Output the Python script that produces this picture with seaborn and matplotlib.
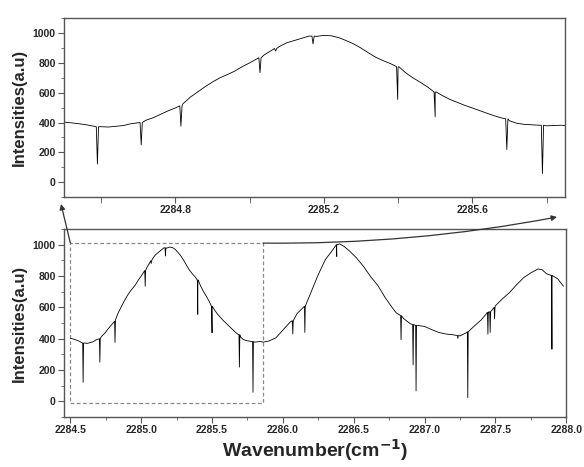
import numpy as np
import pandas as pd
import seaborn as sns
import matplotlib.pyplot as plt
from matplotlib.ticker import MultipleLocator, FixedLocator
from matplotlib.patches import Rectangle

# smooth part of the spectrum (wavenumber, intensity)
wn_env = [2284.50, 2284.52, 2284.54, 2284.56, 2284.58, 2284.60, 2284.62, 2284.64, 2284.66, 2284.68,
          2284.70, 2284.72, 2284.74, 2284.76, 2284.78, 2284.80, 2284.82, 2284.84, 2284.86, 2284.88,
          2284.90, 2284.92, 2284.94, 2284.96, 2284.98, 2285.00, 2285.02, 2285.04, 2285.06, 2285.08,
          2285.10, 2285.12, 2285.14, 2285.16, 2285.18, 2285.20, 2285.22, 2285.24, 2285.26, 2285.28,
          2285.30, 2285.32, 2285.34, 2285.36, 2285.38, 2285.40, 2285.42, 2285.44, 2285.46, 2285.48,
          2285.50, 2285.52, 2285.54, 2285.56, 2285.58, 2285.60, 2285.62, 2285.64, 2285.66, 2285.68,
          2285.70, 2285.72, 2285.74, 2285.76, 2285.78, 2285.80, 2285.82, 2285.84, 2285.86,
          2285.90, 2285.95, 2286.00, 2286.05, 2286.10, 2286.15, 2286.20, 2286.25, 2286.30, 2286.35,
          2286.38, 2286.40, 2286.43, 2286.47, 2286.52, 2286.57, 2286.62, 2286.67, 2286.72, 2286.77,
          2286.80, 2286.85, 2286.90, 2286.95, 2287.00, 2287.05, 2287.10, 2287.15, 2287.20, 2287.25,
          2287.30, 2287.35, 2287.40, 2287.45, 2287.50, 2287.55, 2287.60, 2287.65, 2287.70, 2287.75,
          2287.80, 2287.83, 2287.86, 2287.90, 2287.94, 2287.98]
int_env = [403, 398, 392, 385, 375, 372, 370, 375, 380, 392,
           398, 415, 432, 455, 478, 498, 525, 570, 605, 640,
           672, 700, 722, 745, 775, 800, 828, 855, 885, 910,
           935, 950, 965, 980, 978, 985, 982, 970, 950, 928,
           900, 868, 838, 815, 795, 770, 735, 700, 670, 638,
           605, 580, 555, 535, 515, 498, 480, 462, 445, 430,
           412, 395, 388, 385, 382, 378, 380, 382, 378,
           385, 405, 455, 505, 560, 605, 700, 810, 905, 965,
           1000, 1005, 990, 960, 915, 860, 795, 740, 665, 600,
           565, 530, 495, 485, 478, 458, 440, 430, 425, 418,
           440, 480, 520, 570, 610, 655, 695, 745, 790, 820,
           845, 840, 815, 800, 782, 735]

# sharp absorption lines: position, level just beside the line, level at the bottom
dip_pos = [2284.590, 2284.708, 2284.815, 2285.028, 2285.070, 2285.171, 2285.399, 2285.500,
           2285.693, 2285.789, 2286.070, 2286.155, 2286.380, 2286.834, 2286.919, 2286.940,
           2287.235, 2287.305, 2287.447, 2287.463, 2287.494, 2287.899]
dip_top = [372, 400, 512, 835, 897, 980, 775, 605, 425, 382, 515, 607, 1000, 547, 490, 485,
           420, 444, 568, 572, 600, 803]
dip_bottom = [122, 250, 376, 735, 880, 928, 555, 438, 219, 58, 430, 440, 925, 393, 233, 66,
              402, 23, 429, 440, 526, 333]

# put the spectrum together
rows = list(zip(wn_env, int_env))
for p, t, b in zip(dip_pos, dip_top, dip_bottom):
    rows += [(p - 0.003, t), (p, b), (p + 0.003, t)]
spec = pd.DataFrame(rows, columns=['wn', 'I']).sort_values('wn').reset_index(drop=True)

sns.set_style('ticks')
plt.rcParams['font.family'] = ['Liberation Sans', 'DejaVu Sans']
plt.rcParams['font.weight'] = 'bold'

fig = plt.figure(figsize=(5.84, 4.67), dpi=100)
ax1 = fig.add_axes([0.1096, 0.578, 0.858, 0.383])
ax2 = fig.add_axes([0.1096, 0.107, 0.860, 0.4026])

for ax in (ax1, ax2):
    sns.lineplot(data=spec, x='wn', y='I', ax=ax, color='black', lw=0.6, estimator=None)
    ax.set_ylim(-100, 1100)
    ax.yaxis.set_major_locator(MultipleLocator(200))
    ax.yaxis.set_minor_locator(MultipleLocator(100))
    for s in ax.spines.values():
        s.set_visible(True)
        s.set_color('#555555')
        s.set_linewidth(1.0)
    ax.tick_params(which='both', direction='out', color='#555555', labelsize=7.5, pad=2)
    ax.tick_params(which='major', length=4)
    ax.tick_params(which='minor', length=2.5)
    ax.set_ylabel('Intensities(a.u)', fontsize=12, fontweight='bold', labelpad=4)

# zoomed panel
ax1.set_xlim(2284.5, 2285.85)
ax1.xaxis.set_major_locator(FixedLocator([2284.8, 2285.2, 2285.6]))
ax1.xaxis.set_minor_locator(FixedLocator([2284.6, 2285.0, 2285.4, 2285.8]))
ax1.tick_params(axis='x', which='minor', length=4)
ax1.set_xlabel('')

# full spectrum
ax2.set_xlim(2284.455, 2288.0)
ax2.xaxis.set_major_locator(MultipleLocator(0.5))
ax2.xaxis.set_minor_locator(MultipleLocator(0.25))
ax2.set_xlabel('Wavenumber(cm$^{\\mathbf{-1}}$)', fontsize=14, fontweight='bold', labelpad=1)
for lab in ax1.get_xticklabels() + ax1.get_yticklabels() + ax2.get_xticklabels() + ax2.get_yticklabels():
    lab.set_fontweight('bold')

# dashed box marking the zoomed region
ax2.add_patch(Rectangle((2284.5, -10), 1.36, 1020, fill=False, ls=(0, (3, 2)),
                        ec='#888888', lw=0.9))

# arrows from the box to the zoomed panel
ax2.annotate('', xy=(61 / 584, 1 - 204 / 467), xycoords='figure fraction',
             xytext=(2284.5, 1010), textcoords='data',
             arrowprops=dict(arrowstyle='-|>', color='#333333', lw=0.9,
                             mutation_scale=8, shrinkA=0, shrinkB=0))
ax2.annotate('', xy=(557 / 584, 1 - 217 / 467), xycoords='figure fraction',
             xytext=(2285.86, 1010), textcoords='data',
             arrowprops=dict(arrowstyle='-|>', color='#333333', lw=0.9,
                             mutation_scale=8, shrinkA=0, shrinkB=0,
                             connectionstyle='arc3,rad=0.05'))

plt.savefig('out.png', dpi=100)
